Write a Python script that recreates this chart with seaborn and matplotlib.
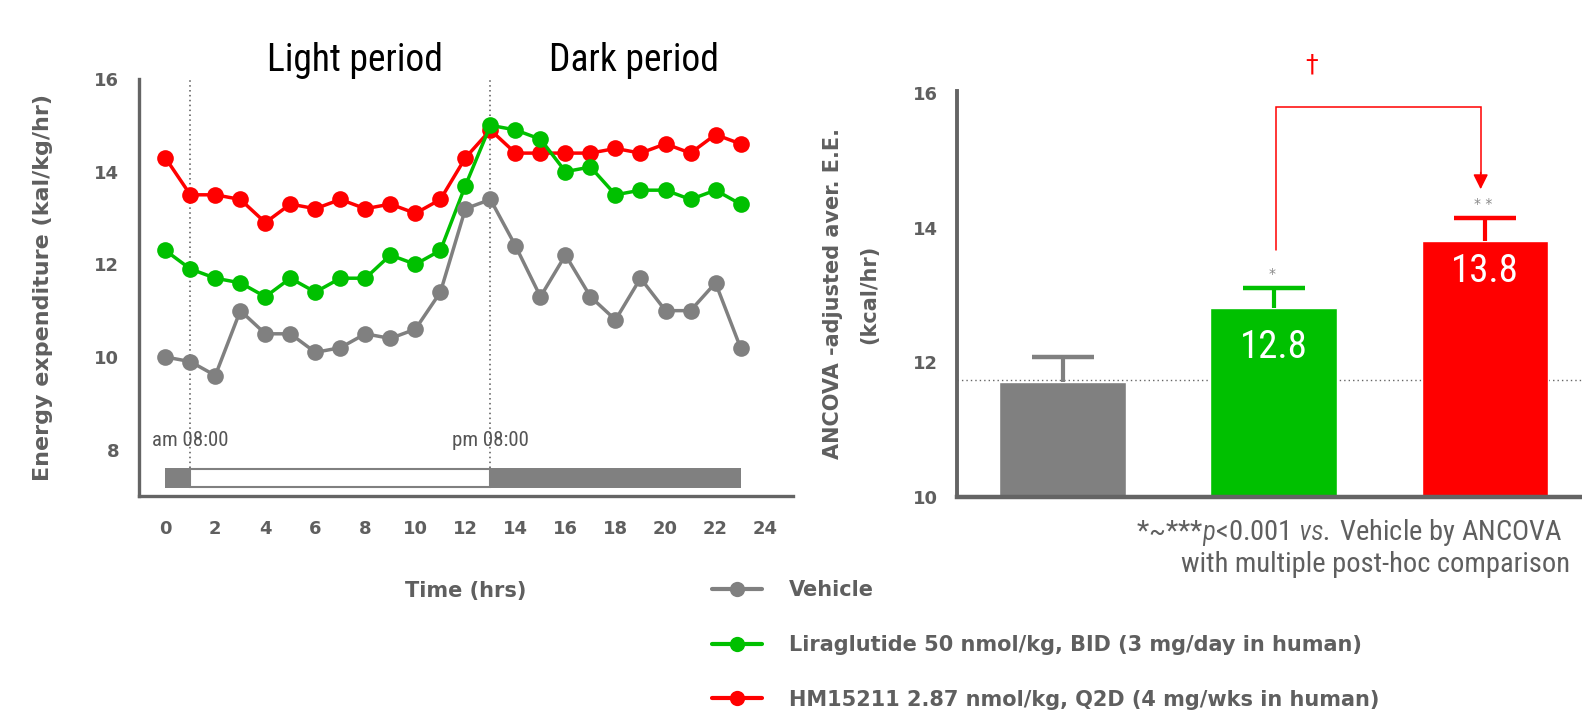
import matplotlib
matplotlib.use("Agg")
import matplotlib.pyplot as plt
from matplotlib.lines import Line2D
from matplotlib.patches import Rectangle
import pandas as pd
import seaborn as sns

# ---------------- data ----------------
hours = list(range(24))
vehicle = [10.0, 9.9, 9.6, 11.0, 10.5, 10.5, 10.1, 10.2, 10.5, 10.4, 10.6, 11.4,
           13.2, 13.4, 12.4, 11.3, 12.2, 11.3, 10.8, 11.7, 11.0, 11.0, 11.6, 10.2]
liraglutide = [12.3, 11.9, 11.7, 11.6, 11.3, 11.7, 11.4, 11.7, 11.7, 12.2, 12.0, 12.3,
               13.7, 15.0, 14.9, 14.7, 14.0, 14.1, 13.5, 13.6, 13.6, 13.4, 13.6, 13.3]
hm15211 = [14.3, 13.5, 13.5, 13.4, 12.9, 13.3, 13.2, 13.4, 13.2, 13.3, 13.1, 13.4,
           14.3, 14.9, 14.4, 14.4, 14.4, 14.4, 14.5, 14.4, 14.6, 14.4, 14.8, 14.6]

group_labels = ["Vehicle",
                "Liraglutide 50 nmol/kg, BID (3 mg/day in human)",
                "HM15211 2.87 nmol/kg, Q2D (4 mg/wks in human)"]
group_colors = ["#808080", "#00C000", "#FF0000"]

bar_means = [11.7, 12.8, 13.8]
bar_sem = [0.38, 0.31, 0.35]
bar_value_labels = ["", "12.8", "13.8"]
bar_stars = ["", "*", "* *"]
vehicle_ref = 11.73

x_major = list(range(0, 25, 2))
x_minor = list(range(1, 26, 2))
y_ticks_left = [8, 10, 12, 14, 16]
y_ticks_right = [10, 12, 14, 16]
light_on, dark_on, rec_end = 1, 13, 23

# ---------------- style ----------------
sns.set_style("white")
NARROW = ["Roboto Condensed", "Barlow Semi Condensed", "Archivo Narrow", "DejaVu Sans"]
plt.rcParams["font.family"] = ["DejaVu Sans"]
plt.rcParams["mathtext.fontset"] = "custom"
plt.rcParams["mathtext.it"] = "Barlow Semi Condensed:italic"
plt.rcParams["mathtext.rm"] = "Barlow Semi Condensed"

AX = "#646464"
TXT = "#5f5f5f"

fig = plt.figure(figsize=(15.82, 7.16), dpi=100)
ax1 = fig.add_axes([0.0879, 0.3073, 0.4134, 0.5824])
ax2 = fig.add_axes([0.605, 0.306, 0.395, 0.567])

# ---------------- left: time course ----------------
df = pd.DataFrame({
    "time": hours * 3,
    "ee": vehicle + liraglutide + hm15211,
    "group": [group_labels[0]] * 24 + [group_labels[1]] * 24 + [group_labels[2]] * 24,
})
pal = dict(zip(group_labels, group_colors))
sns.lineplot(data=df, x="time", y="ee", hue="group",
             hue_order=[group_labels[2], group_labels[1], group_labels[0]],
             palette=pal, marker="o", markersize=12, markeredgewidth=0,
             linewidth=2.5, legend=False, ax=ax1, zorder=3)

ax1.set_xlim(-1.05, 25.1)
ax1.set_ylim(7, 16)
sns.despine(ax=ax1)
for s in ["left", "bottom"]:
    ax1.spines[s].set_color(AX)
    ax1.spines[s].set_linewidth(2.4)
ax1.set_xticks(x_major)
ax1.set_xticks(x_minor, minor=True)
ax1.set_xticklabels([str(v) for v in x_major])
ax1.set_yticks(y_ticks_left)
ax1.tick_params(axis="x", which="major", direction="out", length=8.6, width=2.2,
                color=AX, pad=9, labelsize=13, labelcolor=TXT)
ax1.tick_params(axis="x", which="minor", direction="out", length=5, width=2.2, color=AX)
ax1.tick_params(axis="y", which="major", direction="out", length=9.4, width=2.2,
                color=AX, pad=5, labelsize=13, labelcolor=TXT)
for lab in ax1.get_xticklabels() + ax1.get_yticklabels():
    lab.set_fontweight("bold")

ax1.set_xlabel("Time (hrs)", fontsize=15, fontweight="bold", color=TXT)
ax1.xaxis.set_label_coords(0.5, -0.205)
ax1.set_ylabel("Energy expenditure (kal/kg/hr)", fontsize=16, fontweight="bold", color=TXT)
ax1.yaxis.set_label_coords(-0.132, 0.5)

# light / dark bar
ax1.add_patch(Rectangle((0, 7.17), light_on - 0, 0.44, fc="#808080", ec="none", zorder=2))
ax1.add_patch(Rectangle((light_on, 7.19), dark_on - light_on, 0.40, fc="white",
                        ec="#808080", lw=1.5, zorder=2))
ax1.add_patch(Rectangle((dark_on, 7.17), rec_end - dark_on, 0.44, fc="#808080", ec="none", zorder=2))
for xv in (light_on, dark_on):
    ax1.plot([xv, xv], [7.6, 16.0], ls=(0, (1, 2.2)), color="#555555", lw=1.1, zorder=1)

ax1.text(1.0, 8.19, "am 08:00", family=NARROW, fontsize=15, color="#555555",
         ha="center", va="center")
ax1.text(13.0, 8.19, "pm 08:00", family=NARROW, fontsize=15, color="#555555",
         ha="center", va="center")
ax1.text(7.6, 16.4, "Light period", family=NARROW, fontsize=27, color="black",
         ha="center", va="center", clip_on=False)
ax1.text(18.72, 16.4, "Dark period", family=NARROW, fontsize=27, color="black",
         ha="center", va="center", clip_on=False)

# legend
handles = [Line2D([], [], color=c, lw=3, marker="o", markersize=11, markeredgewidth=0)
           for c in group_colors]
leg = fig.legend(handles, group_labels, loc="upper left",
                 bbox_to_anchor=(712 / 1582, 1 - 580 / 716), frameon=False,
                 handlelength=2.4, handletextpad=1.3, labelspacing=1.67,
                 borderpad=0, borderaxespad=0,
                 prop={"size": 15, "weight": "bold"})
for t in leg.get_texts():
    t.set_color(TXT)

# ---------------- right: bar chart ----------------
xcat = [0, 1, 2]
sns.barplot(x=xcat, y=bar_means, hue=xcat, palette=group_colors, width=0.6,
            legend=False, ax=ax2, saturation=1, zorder=2)
ax2.set_xlim(-0.5, 2.46)
ax2.set_ylim(10, 16.03)
ax2.axhline(vehicle_ref, ls=(0, (1, 2.2)), color="#666666", lw=1.0, zorder=0.5)
for i in xcat:
    _, caps, _ = ax2.errorbar(i, bar_means[i], yerr=[[0], [bar_sem[i]]], fmt="none",
                              ecolor=group_colors[i], elinewidth=3, capsize=22,
                              capthick=3.2, zorder=3)
    if len(caps) == 2:
        caps[0].remove()  # keep only the upper cap
    if bar_value_labels[i]:
        off = 0.58 if i == 1 else 0.45
        ax2.text(i, bar_means[i] - off, bar_value_labels[i], family=NARROW,
                 fontsize=28, color="white", ha="center", va="center", zorder=4)
    if bar_stars[i]:
        ax2.text(i - 0.01, bar_means[i] + bar_sem[i] + 0.2, bar_stars[i],
                 fontsize=10, color="#888888", ha="center", va="center")

sns.despine(ax=ax2)
for s in ["left", "bottom"]:
    ax2.spines[s].set_color(AX)
ax2.spines["left"].set_linewidth(2.8)
ax2.spines["bottom"].set_linewidth(3.2)
ax2.set_xticks([])
ax2.set_yticks(y_ticks_right)
ax2.tick_params(axis="y", direction="out", length=10, width=2.4, color=AX, pad=4,
                labelsize=13, labelcolor=TXT)
for lab in ax2.get_yticklabels():
    lab.set_fontweight("bold")
ax2.set_ylabel("ANCOVA -adjusted aver. E.E.\n(kcal/hr)", fontsize=15,
               fontweight="bold", color=TXT, linespacing=2.0)
ax2.yaxis.set_label_coords(-0.125, 0.5)

# significance bracket
ax2.plot([1.01, 1.01, 1.98, 1.98], [13.67, 15.79, 15.79, 14.79], color="red", lw=1.1,
         clip_on=False, solid_joinstyle="miter")
ax2.annotate("", xy=(1.98, 14.57), xytext=(1.98, 14.82),
             arrowprops=dict(arrowstyle="-|>,head_length=0.9,head_width=0.45",
                             color="red", lw=1.1, shrinkA=0, shrinkB=0))
ax2.text(1.18, 16.42, "\u2020", fontsize=18, color="red", ha="center", va="center",
         clip_on=False)

fig.text(1562 / 1582, 1 - 532 / 716,
         r"*~***$p$<0.001 $vs.$ Vehicle by ANCOVA", family=NARROW, fontsize=20.5,
         color=TXT, ha="right", va="center")
fig.text(1570 / 1582, 1 - 565 / 716, "with multiple post-hoc comparison",
         family=NARROW, fontsize=20.5, color=TXT, ha="right", va="center")

fig.savefig("out.png", dpi=100, facecolor="white")
